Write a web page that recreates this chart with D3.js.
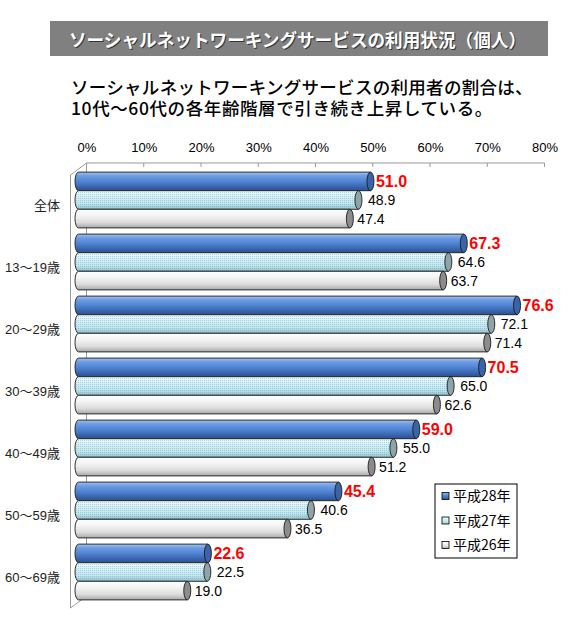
<!DOCTYPE html>
<html>
<head>
<meta charset="utf-8">
<title>ソーシャルネットワーキングサービスの利用状況（個人）</title>
<script src="https://d3js.org/d3.v7.min.js"></script>
<style>
  body { margin: 0; background: #fff; }
  #chart { position: relative; width: 573px; height: 643px; }
  text { font-family: "Liberation Sans", "Noto Sans CJK JP", sans-serif; }
  .jp { font-family: "Noto Sans CJK JP", sans-serif; }
  #subtitle {
    position: absolute; left: 71px; top: 77px;
    font-family: "Noto Sans CJK JP", sans-serif; font-size: 17.5px; font-weight: 500;
    line-height: 20.5px; color: #000; white-space: nowrap;
  }
</style>
</head>
<body>
<div id="chart"></div>
<script>
// data
var categories = ["全体", "13～19歳", "20～29歳", "30～39歳", "40～49歳", "50～59歳", "60～69歳"];
var seriesNames = ["平成28年", "平成27年", "平成26年"];
var h28 = [51.0, 67.3, 76.6, 70.5, 59.0, 45.4, 22.6];
var h27 = [48.9, 64.6, 72.1, 65.0, 55.0, 40.6, 22.5];
var h26 = [47.4, 63.7, 71.4, 62.6, 51.2, 36.5, 19.0];
var tickValues = [0, 10, 20, 30, 40, 50, 60, 70, 80];
var title = "ソーシャルネットワーキングサービスの利用状況（個人）";
var subtitle = ["ソーシャルネットワーキングサービスの利用者の割合は、", "10代～60代の各年齢階層で引き続き上昇している。"];

var series = [h28, h27, h26];

var W = 573, H = 643;
var svg = d3.select("#chart").append("svg")
    .attr("width", W).attr("height", H);

var defs = svg.append("defs");

// gradients for the cylinders
var grads = [
  {id: "g0", stops: [["0%", "#a2c4f0"], ["20%", "#6d9de2"], ["55%", "#4c7fcf"], ["100%", "#2b508f"]], cap: "#3b64a8"},
  {id: "g1", stops: [["0%", "#f0fbfd"], ["30%", "#d6f2f8"], ["70%", "#bfe6ef"], ["100%", "#92c0cc"]], cap: "#8ea4a9"},
  {id: "g2", stops: [["0%", "#ffffff"], ["35%", "#f3f3f3"], ["70%", "#dcdcdc"], ["100%", "#a8a8a8"]], cap: "#8c8c8c"}
];
grads.forEach(function(g) {
  var lg = defs.append("linearGradient").attr("id", g.id)
      .attr("x1", 0).attr("y1", 0).attr("x2", 0).attr("y2", 1);
  g.stops.forEach(function(s) {
    lg.append("stop").attr("offset", s[0]).attr("stop-color", s[1]);
  });
});
var pat = defs.append("pattern").attr("id", "dots")
    .attr("width", 2).attr("height", 2).attr("patternUnits", "userSpaceOnUse");
pat.append("rect").attr("width", 1).attr("height", 1).attr("fill", "rgba(90,150,170,0.35)");

// title banner
svg.append("rect").attr("x", 50).attr("y", 21).attr("width", 498).attr("height", 35)
    .attr("fill", "#808080");
svg.append("text").attr("class", "jp")
    .attr("x", 70).attr("y", 48)
    .attr("font-size", 18).attr("font-weight", "bold").attr("fill", "#333")
    .attr("textLength", 457).attr("lengthAdjust", "spacingAndGlyphs")
    .text(title);
svg.append("text").attr("class", "jp")
    .attr("x", 69).attr("y", 47)
    .attr("font-size", 18).attr("font-weight", "bold").attr("fill", "#fff")
    .attr("textLength", 457).attr("lengthAdjust", "spacingAndGlyphs")
    .text(title);

// subtitle: one html block, two lines
var subDiv = d3.select("#chart").append("div").attr("id", "subtitle");
subDiv.append("span").style("letter-spacing", "0.3px").text(subtitle[0]);
subDiv.append("br");
subDiv.append("span").style("letter-spacing", "0.6px").text(subtitle[1]);

// scales: back wall, bar plane (3D depth offset)
var xBack = d3.scaleLinear().domain([0, 80]).range([86.5, 544.5]);
var xBar = d3.scaleLinear().domain([0, 80]).range([78.5, 536.5]);
var y = d3.scaleBand().domain(categories).range([169, 603])
    .paddingInner(0.1).paddingOuter(0.05);
var ySub = d3.scaleBand().domain([0, 1, 2]).range([0, y.bandwidth()]);

// top axis (tick labels)
var axis = d3.axisTop(xBack).tickValues(tickValues)
    .tickFormat(function(d) { return d + "%"; }).tickSize(0).tickPadding(0);
var ax = svg.append("g").attr("transform", "translate(0,152)").call(axis);
ax.select(".domain").remove();
ax.selectAll("text").attr("font-size", 13).attr("fill", "#000")
    .attr("font-family", "Liberation Sans, sans-serif").attr("dy", 0);

// back wall edges and ticks
var wall = svg.append("g").attr("stroke", "#9a9a9a").attr("fill", "none").attr("stroke-width", 1);
wall.append("path").attr("d",
    "M" + xBack(80) + ",163 H" + xBack(0) + " V596 L" + (xBack(0) - 16) + ",608 V175 L" + xBack(0) + ",163");
wall.selectAll("line.tk").data(tickValues.slice(1)).enter().append("line")
    .attr("x1", function(d) { return xBack(d); }).attr("x2", function(d) { return xBack(d); })
    .attr("y1", 163).attr("y2", 167);

// bars as cylinders
var rx = 3.5;
categories.forEach(function(cat, i) {
  series.forEach(function(vals, s) {
    var v = vals[i];
    var y0 = y(cat) + ySub(s), h = ySub.bandwidth();
    var x0 = xBar(0), x1 = xBar(v);
    var g = svg.append("g");
    var body = "M" + x0 + "," + y0 + " L" + x1 + "," + y0 +
        " L" + x1 + "," + (y0 + h) + " L" + x0 + "," + (y0 + h) +
        " A" + rx + "," + (h / 2) + " 0 0 1 " + x0 + "," + y0 + " Z";
    g.append("path").attr("d", body).attr("fill", "url(#" + grads[s].id + ")")
        .attr("stroke", "#1c1c1c").attr("stroke-width", 0.9);
    if (s === 1) {
      g.append("path").attr("d", body).attr("fill", "url(#dots)").attr("stroke", "none");
    }
    g.append("ellipse").attr("cx", x1).attr("cy", y0 + h / 2)
        .attr("rx", rx).attr("ry", h / 2)
        .attr("fill", grads[s].cap).attr("stroke", "#1c1c1c").attr("stroke-width", 0.9);

    // value labels
    var lab = svg.append("text")
        .attr("y", y0 + h / 2 + 5)
        .text(v.toFixed(1));
    if (s === 0) {
      lab.attr("x", x1 + rx + 2).attr("font-size", 16).attr("font-weight", "bold")
          .attr("fill", "#ff0000").attr("dy", 1);
    } else {
      lab.attr("x", x1 + rx + (s === 1 ? 6 : 4)).attr("font-size", 14).attr("fill", "#000");
    }
  });
});

// category labels
svg.selectAll("text.cat").data(categories).enter().append("text")
    .attr("class", "cat")
    .attr("x", 60).attr("y", function(d) { return y(d) + y.bandwidth() / 2 + 10; })
    .attr("text-anchor", "end").attr("font-size", 13).attr("fill", "#222")
    .text(function(d) { return d; });

// legend
var lg = svg.append("g").attr("transform", "translate(435,484)");
lg.append("rect").attr("width", 82).attr("height", 74)
    .attr("fill", "#fff").attr("stroke", "#000").attr("stroke-width", 1);
seriesNames.forEach(function(name, s) {
  var cy = 12 + s * 24.5;
  lg.append("rect").attr("x", 7).attr("y", cy - 3.5).attr("width", 7).attr("height", 7)
      .attr("fill", "url(#" + grads[s].id + ")").attr("stroke", "#000").attr("stroke-width", 0.8);
  lg.append("text").attr("class", "jp").attr("x", 18).attr("y", cy + 5)
      .attr("font-size", 14).attr("fill", "#000").text(name);
});
</script>
</body>
</html>
